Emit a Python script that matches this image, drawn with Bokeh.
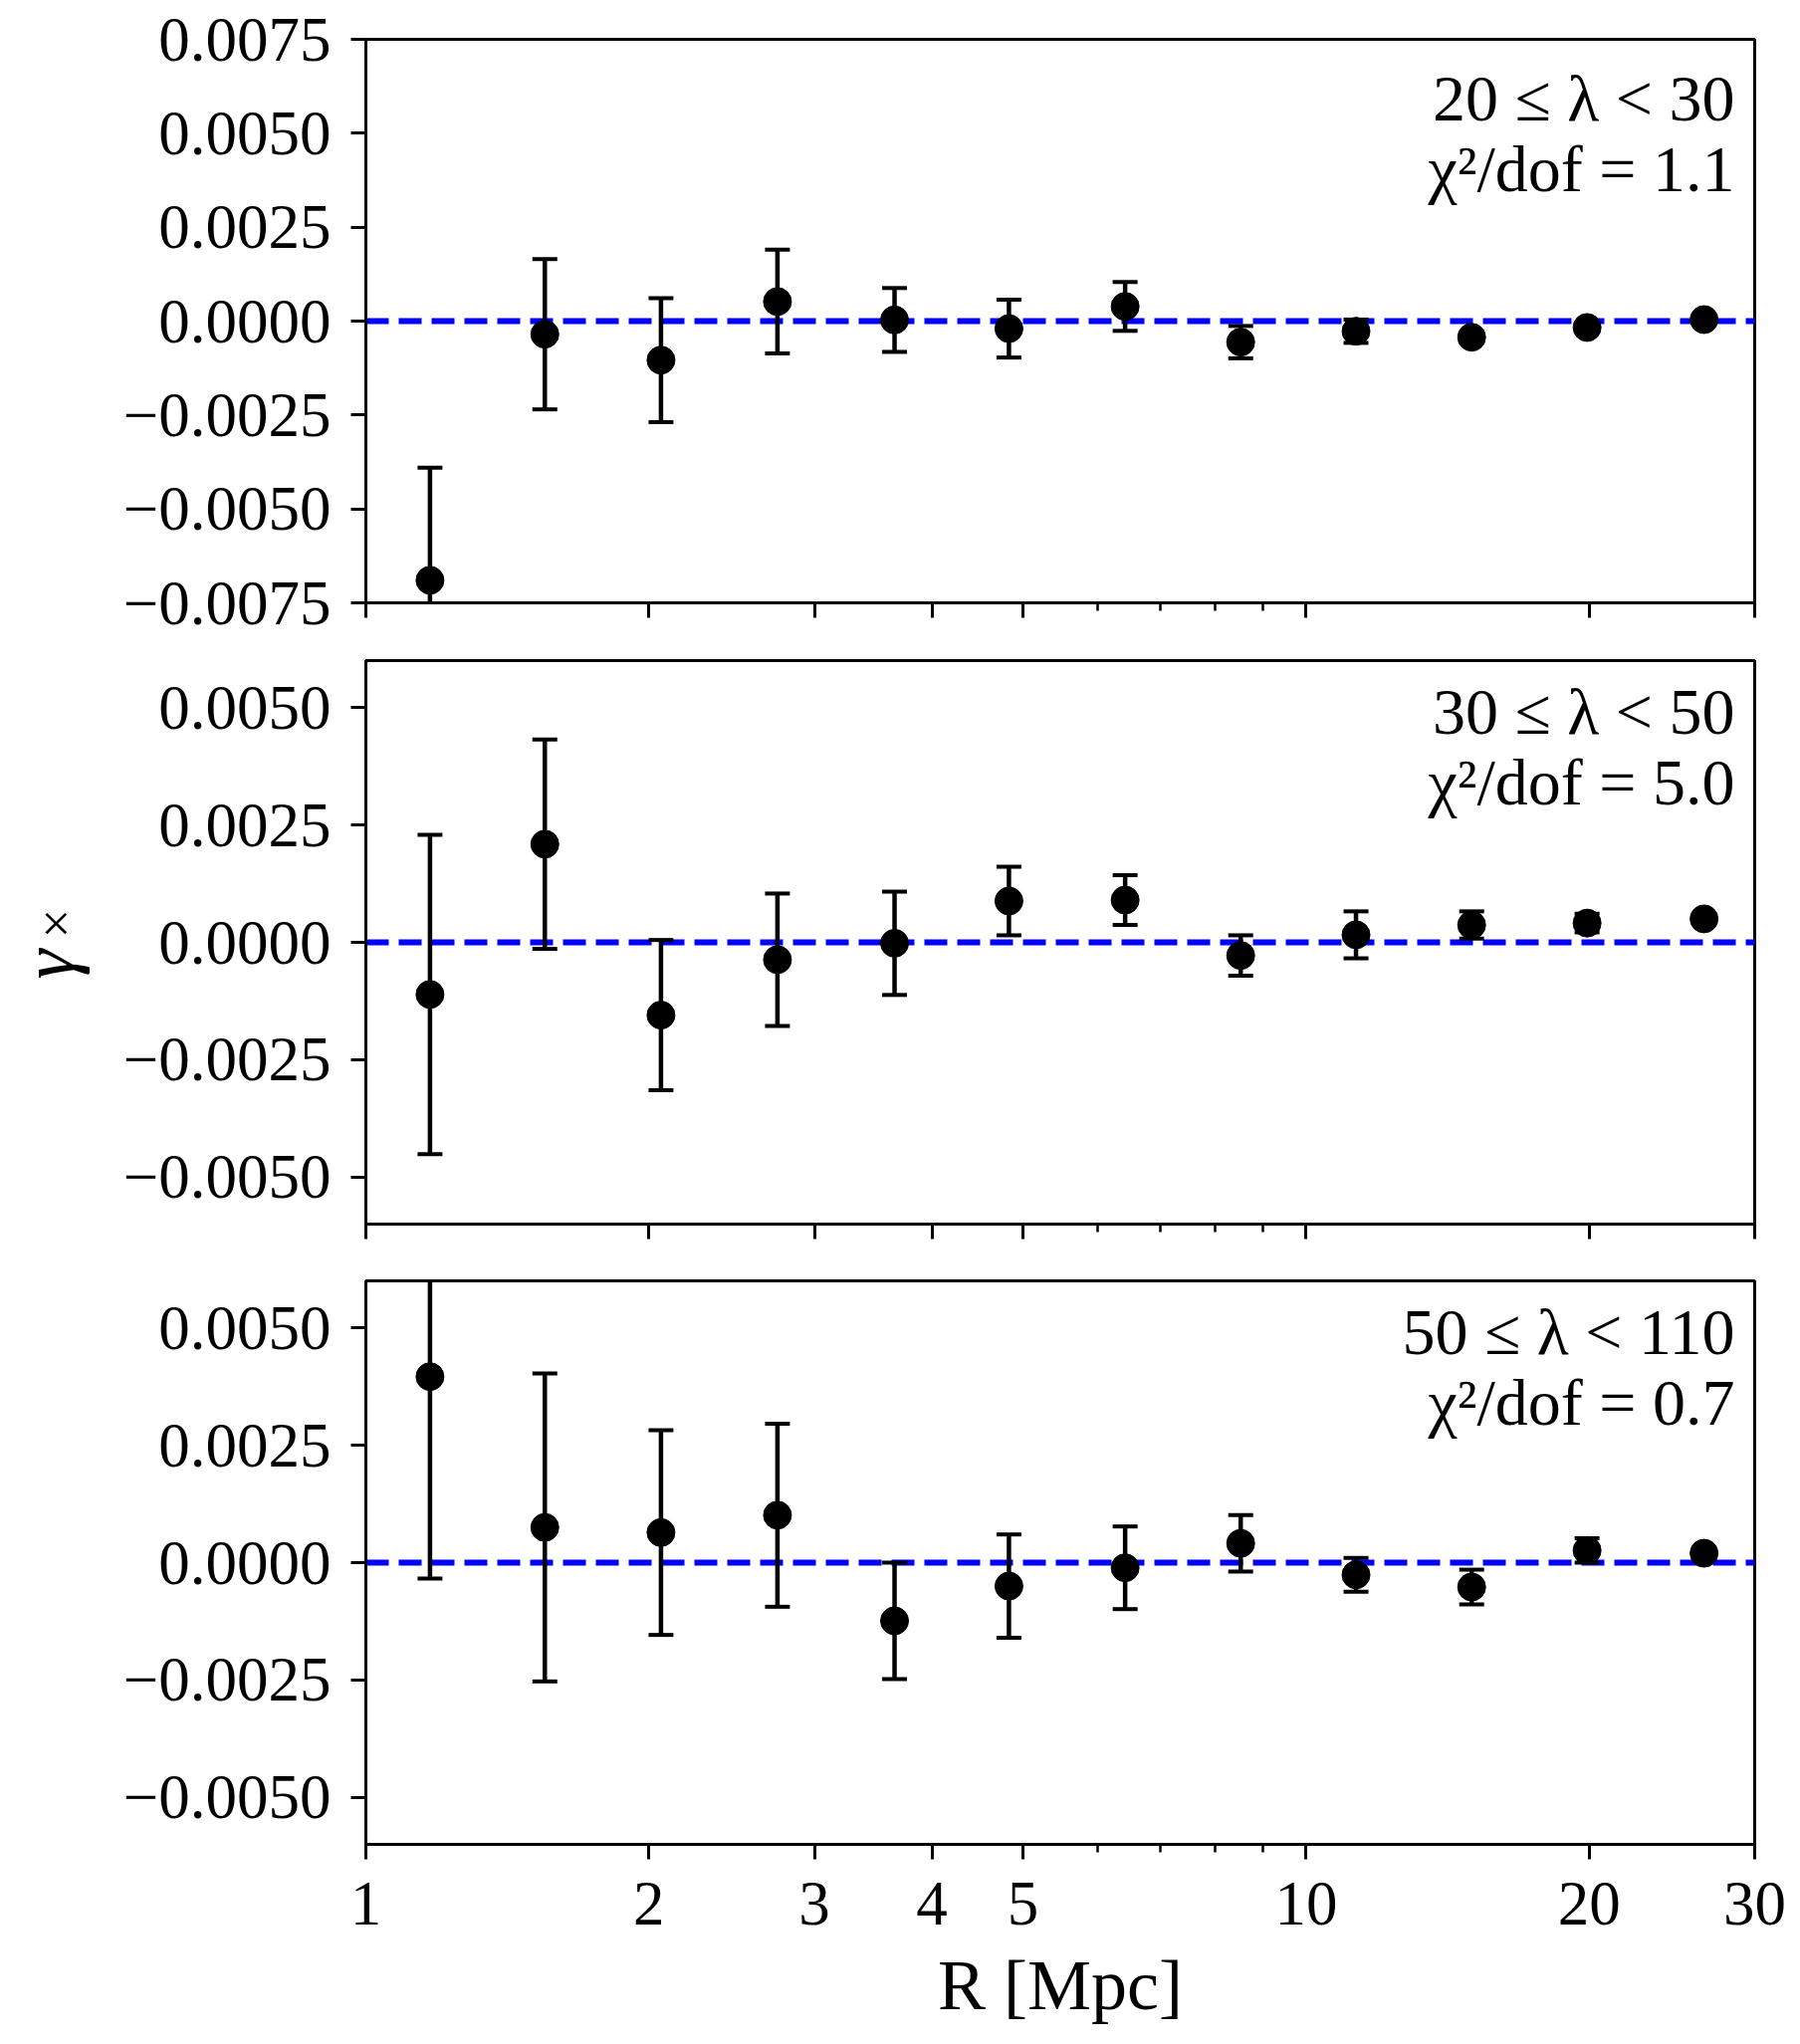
import math
from bokeh.plotting import figure
from bokeh.layouts import column, row
from bokeh.models import (Range1d, FixedTicker, CustomJSTickFormatter, Span, Label,
                          ColumnDataSource)
from bokeh.core.properties import value
from bokeh.embed import file_html
from bokeh.resources import INLINE

# ---------------- data ----------------
R_mpc = [1.17, 1.55, 2.06, 2.74, 3.65, 4.83, 6.42, 8.52, 11.3, 15.0, 19.9, 26.5]

gx_20_30 = [-0.0069, -0.00035, -0.00104, 0.00052, 0.00003, -0.00020,
            0.00039, -0.00056, -0.00027, -0.00043, -0.00017, 0.00004]
err_20_30 = [0.0030, 0.0020, 0.00165, 0.00138, 0.00085, 0.00077,
             0.00065, 0.00043, 0.00031, 0.00015, 0.00010, 0.00008]

gx_30_50 = [-0.00111, 0.00209, -0.00155, -0.00037, -0.00002, 0.00088,
            0.00090, -0.00028, 0.00016, 0.00037, 0.00041, 0.00050]
err_30_50 = [0.0034, 0.00223, 0.0016, 0.00141, 0.0011, 0.00073,
             0.00053, 0.00043, 0.00050, 0.00029, 0.00020, 0.00010]

gx_50_110 = [0.00396, 0.00075, 0.00064, 0.00101, -0.00124, -0.00050,
             -0.00011, 0.00041, -0.00026, -0.00052, 0.00026, 0.00020]
err_50_110 = [0.0043, 0.00328, 0.00218, 0.00195, 0.00124, 0.00110,
              0.00088, 0.00060, 0.00036, 0.00037, 0.00026, 0.00012]

bin_labels = ["20 ≤ λ < 30", "30 ≤ λ < 50", "50 ≤ λ < 110"]
chi2_labels = ["χ²/dof = 1.1", "χ²/dof = 5.0", "χ²/dof = 0.7"]

y_ranges = [(-0.0075, 0.0075), (-0.006, 0.006), (-0.006, 0.006)]
y_ticks = [[-0.0075, -0.005, -0.0025, 0.0, 0.0025, 0.005, 0.0075],
           [-0.005, -0.0025, 0.0, 0.0025, 0.005],
           [-0.005, -0.0025, 0.0, 0.0025, 0.005]]

x_ticks = [1, 2, 3, 4, 5, 10, 20, 30]
x_minor_ticks = [6, 7, 8, 9]

x_label = "R [Mpc]"
y_label_main = "γ"
y_label_sub = "×"

# ---------------- style / layout ----------------
FONT = "Liberation Serif"
WL = 100                       # width of the y-label strip
FRAME_W, FRAME_H = 1395, 566
LEFT, RIGHT = 267, 40
TOPS = [39, 16, 29]
BOTTOMS = [42, 28, 201]
TOTAL_H = sum(TOPS) + sum(BOTTOMS) + 3 * FRAME_H
TEXT_BASE = [(59, 130), (51, 122), (51, 122)]   # px below frame top (baselines)

series = [(gx_20_30, err_20_30), (gx_30_50, err_30_50), (gx_50_110, err_50_110)]


def y_at(rng, px_from_top):
    lo, hi = rng
    return hi - px_from_top / FRAME_H * (hi - lo)


figs = []
for i in range(3):
    vals, errs = series[i]
    rng = y_ranges[i]
    p = figure(width=LEFT + FRAME_W + RIGHT, height=TOPS[i] + FRAME_H + BOTTOMS[i],
               x_axis_type="log", x_range=Range1d(1, 30), y_range=Range1d(*rng),
               output_backend="svg", toolbar_location=None, tools="",
               min_border_left=LEFT, min_border_right=RIGHT,
               min_border_top=TOPS[i], min_border_bottom=BOTTOMS[i])
    p.grid.visible = False
    p.outline_line_color = "black"
    p.outline_line_width = 3
    p.background_fill_color = "white"
    p.border_fill_color = "white"

    p.xaxis.ticker = FixedTicker(ticks=x_ticks, minor_ticks=x_minor_ticks)
    p.yaxis.ticker = FixedTicker(ticks=y_ticks[i], minor_ticks=[])
    p.yaxis.formatter = CustomJSTickFormatter(
        code="const s = Math.abs(tick).toFixed(4); return (tick < -1e-12 ? '\u2212' : '') + s;")

    for ax in (p.xaxis[0], p.yaxis[0]):
        ax.axis_line_width = 3
        ax.axis_line_color = "black"
        ax.major_tick_line_width = 3
        ax.major_tick_line_color = "black"
        ax.minor_tick_line_width = 2.5
        ax.minor_tick_line_color = "black"
        ax.major_tick_in = 0
        ax.major_tick_out = 15
        ax.minor_tick_in = 0
        ax.minor_tick_out = 8
        ax.major_label_text_font = FONT
        ax.major_label_text_font_size = "63px"
        ax.major_label_text_color = "black"
    p.yaxis.minor_tick_out = 0
    p.yaxis.major_label_standoff = 20

    if i < 2:
        p.xaxis.formatter = CustomJSTickFormatter(code="return '';")
        p.xaxis.major_label_text_font_size = "1px"
        p.xaxis.major_label_standoff = 0
    else:
        p.xaxis.formatter = CustomJSTickFormatter(code="return String(tick);")
        p.xaxis.major_label_standoff = 23
        p.xaxis.axis_label = x_label
        p.xaxis.axis_label_text_font = FONT
        p.xaxis.axis_label_text_font_size = "72px"
        p.xaxis.axis_label_text_font_style = "normal"
        p.xaxis.axis_label_text_color = "black"
        p.xaxis.axis_label_standoff = 18

    zero = Span(location=0, dimension="width", line_color="#0000ff",
                line_width=6, line_dash="23 10", level="underlay")
    p.add_layout(zero)

    src = ColumnDataSource(dict(
        x=R_mpc, y=vals,
        lo=[v - e for v, e in zip(vals, errs)],
        hi=[v + e for v, e in zip(vals, errs)]))
    p.segment(x0="x", y0="lo", x1="x", y1="hi", source=src,
              line_color="black", line_width=4.5)
    p.scatter(x="x", y="lo", source=src, marker="dash", size=25,
              line_color="black", line_width=4)
    p.scatter(x="x", y="hi", source=src, marker="dash", size=25,
              line_color="black", line_width=4)
    p.scatter(x="x", y="y", source=src, marker="circle", size=28,
              fill_color="black", line_color="black")

    for txt, px in ((bin_labels[i], TEXT_BASE[i][0]), (chi2_labels[i], TEXT_BASE[i][1])):
        p.add_layout(Label(x=30, y=y_at(rng, px), x_offset=-20, text=txt,
                           text_align="right", text_baseline="alphabetic",
                           text_font=FONT, text_font_size="66px",
                           text_color="black"))
    figs.append(p)

# ---- y-axis label strip (γ with a × subscript), rotated like the reference ----
lab = figure(width=WL, height=TOTAL_H, x_range=Range1d(0, WL), y_range=Range1d(0, TOTAL_H),
             output_backend="svg", toolbar_location=None, tools="",
             x_axis_location=None, y_axis_location=None,
             min_border_left=0, min_border_right=0, min_border_top=0, min_border_bottom=0)
lab.grid.visible = False
lab.outline_line_color = None
lab.background_fill_color = "white"
lab.border_fill_color = "white"
lab.text(x=[47], y=[TOTAL_H - 968], text=[y_label_main], angle=math.pi / 2,
         text_align="center", text_baseline="middle", text_font=value(FONT),
         text_font_size="76px", text_font_style="italic", text_color="black")
lab.text(x=[56], y=[TOTAL_H - 927], text=[y_label_sub], angle=math.pi / 2,
         text_align="center", text_baseline="middle", text_font=value(FONT),
         text_font_size="52px", text_color="black")

layout = row(lab, column(*figs, spacing=0), spacing=0)
open("out.html", "w", encoding="utf-8").write(file_html(layout, INLINE))
